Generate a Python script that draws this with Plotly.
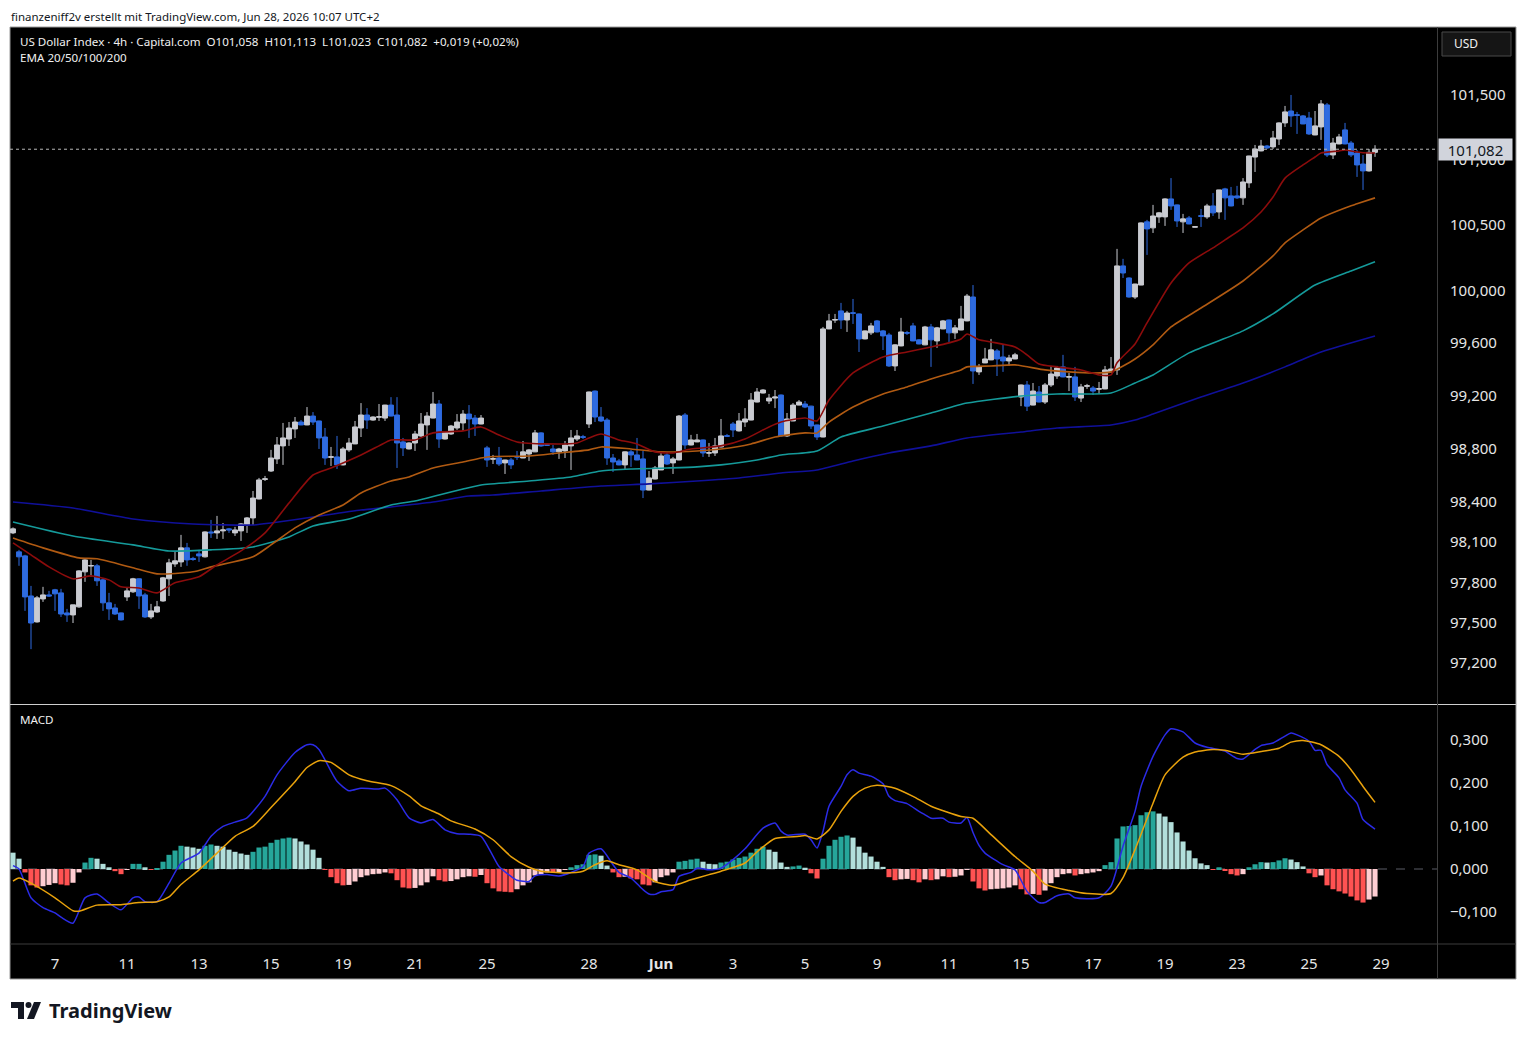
import math
import plotly.graph_objects as go

# screenshot is 1526x1040; the page body adds an 8px margin around the figure
OFF = 8
W, H = 1526 - 2 * OFF, 1040 - OFF

# ---- data: US Dollar Index, 4h candles (weekends removed), index 0..227 ----
opens = [98.169, 98.027, 97.997, 97.698, 97.505, 97.676, 97.706, 97.744, 97.721, 97.572,
         97.557, 97.617, 97.878, 97.921, 97.923, 97.818, 97.647, 97.609, 97.572, 97.691,
         97.729, 97.826, 97.706, 97.542, 97.579, 97.661, 97.826, 97.937, 97.952, 98.057,
         97.978, 98.012, 97.990, 98.176, 98.169, 98.184, 98.199, 98.169, 98.184, 98.228,
         98.281, 98.423, 98.570, 98.633, 98.724, 98.822, 98.874, 98.950, 99.002, 98.980,
         99.047, 99.010, 98.889, 98.736, 98.739, 98.679, 98.792, 98.837, 98.957, 99.055,
         99.017, 99.038, 99.032, 99.130, 99.055, 98.852, 98.799, 98.844, 98.897, 98.980,
         99.032, 99.138, 98.874, 98.912, 98.957, 98.995, 99.062, 99.032, 98.987, 98.807,
         98.722, 98.731, 98.694, 98.716, 98.742, 98.731, 98.761, 98.777, 98.920, 98.831,
         98.799, 98.777, 98.784, 98.822, 98.874, 98.891, 98.987, 99.236, 99.040, 99.017,
         98.731, 98.709, 98.679, 98.777, 98.754, 98.724, 98.490, 98.573, 98.641, 98.754,
         98.694, 98.716, 99.055, 98.829, 98.852, 98.867, 98.767, 98.769, 98.814, 98.899,
         98.987, 98.935, 99.002, 99.017, 99.153, 99.221, 99.161, 99.183, 99.206, 98.897,
         99.010, 99.130, 99.138, 99.122, 98.980, 98.889, 99.707, 99.774, 99.844, 99.775,
         99.830, 99.821, 99.631, 99.677, 99.768, 99.692, 99.661, 99.426, 99.578, 99.679,
         99.730, 99.624, 99.586, 99.722, 99.616, 99.707, 99.775, 99.677, 99.699, 99.768,
         99.950, 99.381, 99.449, 99.472, 99.540, 99.494, 99.464, 99.479, 99.191, 99.282,
         99.130, 99.229, 99.153, 99.282, 99.350, 99.419, 99.341, 99.343, 99.183, 99.272,
         99.259, 99.250, 99.252, 99.381, 99.396, 100.187, 100.095, 99.950, 100.041, 100.524,
         100.478, 100.562, 100.562, 100.700, 100.654, 100.524, 100.554, 100.483, 100.571, 100.562,
         100.646, 100.600, 100.777, 100.723, 100.723, 100.708, 100.823, 101.022, 101.069, 101.107,
         101.100, 101.161, 101.285, 101.377, 101.348, 101.339, 101.323, 101.192, 101.254, 101.424,
         101.038, 101.123, 101.231, 101.130, 101.053, 100.968, 100.915, 101.058]
highs = [98.210, 98.042, 98.005, 97.773, 97.698, 97.766, 97.736, 97.751, 97.751, 97.602,
         97.632, 97.890, 97.975, 97.967, 97.937, 97.833, 97.721, 97.639, 97.575, 97.758,
         97.833, 97.830, 97.721, 97.639, 97.661, 97.840, 97.975, 98.027, 98.154, 98.094,
         97.990, 98.042, 98.180, 98.266, 98.296, 98.243, 98.206, 98.214, 98.243, 98.288,
         98.483, 98.581, 98.596, 98.792, 98.889, 98.995, 99.002, 99.040, 99.017, 99.115,
         99.077, 99.012, 98.957, 98.814, 98.897, 98.814, 98.882, 99.010, 99.145, 99.107,
         99.045, 99.138, 99.132, 99.190, 99.190, 98.882, 98.850, 98.935, 99.070, 99.077,
         99.229, 99.168, 98.930, 98.980, 99.062, 99.092, 99.130, 99.055, 99.055, 98.822,
         98.754, 98.814, 98.718, 98.731, 98.784, 98.859, 98.799, 98.942, 98.925, 98.837,
         98.829, 98.807, 98.859, 98.942, 98.942, 98.905, 99.232, 99.240, 99.115, 99.032,
         98.761, 98.724, 98.780, 98.792, 98.882, 98.784, 98.633, 98.671, 98.769, 98.777,
         98.739, 99.055, 99.070, 98.905, 98.912, 98.870, 98.844, 98.882, 99.025, 98.912,
         99.002, 99.070, 99.107, 99.221, 99.259, 99.250, 99.214, 99.244, 99.210, 99.070,
         99.145, 99.168, 99.161, 99.125, 98.982, 99.722, 99.821, 99.821, 99.905, 99.844,
         99.935, 99.825, 99.695, 99.753, 99.775, 99.699, 99.677, 99.590, 99.791, 99.692,
         99.753, 99.630, 99.730, 99.745, 99.722, 99.775, 99.778, 99.737, 99.882, 99.973,
         100.041, 99.441, 99.563, 99.631, 99.555, 99.586, 99.510, 99.525, 99.285, 99.312,
         99.297, 99.274, 99.297, 99.426, 99.426, 99.510, 99.373, 99.419, 99.290, 99.290,
         99.274, 99.305, 99.426, 99.494, 100.317, 100.241, 100.100, 100.050, 100.520, 100.539,
         100.654, 100.600, 100.705, 100.860, 100.657, 100.585, 100.569, 100.490, 100.623, 100.662,
         100.745, 100.770, 100.785, 100.792, 100.800, 100.860, 101.032, 101.115, 101.154, 101.115,
         101.223, 101.290, 101.416, 101.501, 101.370, 101.346, 101.370, 101.377, 101.462, 101.439,
         101.169, 101.200, 101.285, 101.146, 101.076, 101.038, 101.084, 101.113]
lows = [98.160, 97.923, 97.587, 97.303, 97.500, 97.654, 97.691, 97.587, 97.542, 97.505,
        97.497, 97.610, 97.803, 97.841, 97.773, 97.587, 97.520, 97.557, 97.515, 97.661,
        97.721, 97.602, 97.535, 97.527, 97.572, 97.655, 97.698, 97.915, 97.915, 97.923,
        97.960, 97.952, 97.985, 98.131, 98.124, 98.124, 98.169, 98.146, 98.109, 98.169,
        98.228, 98.420, 98.558, 98.626, 98.686, 98.679, 98.822, 98.882, 98.978, 98.978,
        98.980, 98.799, 98.679, 98.671, 98.648, 98.675, 98.777, 98.835, 98.889, 98.950,
        99.012, 99.010, 99.010, 99.045, 98.656, 98.746, 98.795, 98.784, 98.889, 98.792,
        99.030, 98.807, 98.870, 98.905, 98.942, 98.935, 98.882, 98.897, 98.985, 98.664,
        98.686, 98.671, 98.611, 98.648, 98.716, 98.730, 98.709, 98.775, 98.815, 98.822,
        98.754, 98.724, 98.731, 98.641, 98.859, 98.874, 98.957, 99.002, 99.002, 98.679,
        98.626, 98.676, 98.648, 98.664, 98.714, 98.430, 98.488, 98.570, 98.640, 98.679,
        98.611, 98.714, 98.799, 98.826, 98.850, 98.739, 98.739, 98.746, 98.810, 98.889,
        98.889, 98.930, 98.965, 99.015, 99.150, 99.218, 99.138, 99.107, 98.890, 98.889,
        99.008, 99.128, 99.107, 98.950, 98.867, 98.887, 99.705, 99.753, 99.707, 99.684,
        99.745, 99.532, 99.628, 99.661, 99.680, 99.547, 99.419, 99.388, 99.575, 99.661,
        99.613, 99.590, 99.583, 99.419, 99.563, 99.705, 99.608, 99.631, 99.697, 99.765,
        99.290, 99.358, 99.447, 99.470, 99.350, 99.381, 99.426, 99.477, 99.122, 99.085,
        99.128, 99.150, 99.138, 99.267, 99.328, 99.340, 99.236, 99.161, 99.153, 99.252,
        99.206, 99.214, 99.250, 99.378, 99.358, 100.095, 99.945, 99.935, 100.040, 100.271,
        100.439, 100.516, 100.493, 100.616, 100.485, 100.439, 100.505, 100.480, 100.485, 100.547,
        100.569, 100.547, 100.539, 100.643, 100.700, 100.654, 100.785, 100.907, 101.066, 101.084,
        101.084, 101.115, 101.254, 101.254, 101.200, 101.275, 101.192, 101.190, 101.154, 101.022,
        101.007, 101.120, 101.120, 101.022, 100.869, 100.769, 100.910, 101.023]
closes = [98.199, 97.990, 97.691, 97.497, 97.684, 97.706, 97.698, 97.714, 97.564, 97.557,
          97.632, 97.885, 97.967, 97.925, 97.811, 97.647, 97.602, 97.564, 97.520, 97.736,
          97.826, 97.698, 97.542, 97.587, 97.617, 97.833, 97.945, 97.960, 98.057, 97.967,
          97.970, 97.997, 98.176, 98.169, 98.184, 98.191, 98.191, 98.191, 98.236, 98.281,
          98.430, 98.566, 98.574, 98.731, 98.829, 98.882, 98.957, 99.002, 98.980, 99.047,
          99.002, 98.882, 98.731, 98.740, 98.679, 98.799, 98.844, 98.965, 99.055, 99.017,
          99.040, 99.042, 99.130, 99.047, 98.844, 98.807, 98.844, 98.912, 98.987, 99.047,
          99.138, 98.874, 98.927, 98.972, 99.002, 99.062, 99.025, 98.987, 99.032, 98.716,
          98.726, 98.686, 98.716, 98.679, 98.738, 98.777, 98.792, 98.920, 98.822, 98.827,
          98.777, 98.799, 98.829, 98.882, 98.897, 98.887, 99.229, 99.040, 99.010, 98.731,
          98.701, 98.679, 98.777, 98.754, 98.716, 98.490, 98.581, 98.656, 98.746, 98.686,
          98.724, 99.047, 98.829, 98.867, 98.867, 98.769, 98.771, 98.822, 98.897, 98.895,
          98.942, 99.010, 99.025, 99.168, 99.229, 99.244, 99.183, 99.191, 98.897, 99.025,
          99.130, 99.153, 99.115, 98.972, 98.889, 99.707, 99.768, 99.778, 99.775, 99.828,
          99.826, 99.631, 99.692, 99.730, 99.684, 99.654, 99.426, 99.586, 99.684, 99.675,
          99.616, 99.593, 99.722, 99.624, 99.715, 99.768, 99.677, 99.715, 99.783, 99.957,
          99.388, 99.419, 99.479, 99.548, 99.479, 99.464, 99.487, 99.510, 99.282, 99.122,
          99.236, 99.153, 99.282, 99.365, 99.411, 99.343, 99.345, 99.191, 99.267, 99.276,
          99.236, 99.254, 99.396, 99.403, 100.187, 100.133, 99.950, 100.049, 100.516, 100.470,
          100.569, 100.593, 100.700, 100.646, 100.531, 100.547, 100.508, 100.487, 100.567, 100.646,
          100.593, 100.769, 100.708, 100.646, 100.708, 100.830, 101.030, 101.084, 101.107, 101.092,
          101.169, 101.285, 101.370, 101.339, 101.344, 101.277, 101.200, 101.262, 101.432, 101.038,
          101.130, 101.177, 101.123, 101.038, 100.961, 100.915, 101.058, 101.082]

# EMA lines (candle index -> value)
ema20_idx = [0, 3, 6, 10, 13, 16, 18, 21, 24, 27, 31, 34, 38, 42, 46, 50, 53, 58, 61, 63,
             67, 70, 75, 78, 81, 84, 89, 94, 96, 98, 101, 104, 107, 110, 113, 118, 122, 126, 128, 132,
             134, 136, 140, 145, 149, 153, 156, 158, 159, 161, 163, 167, 169, 171, 174, 178, 181, 183, 184, 187,
             189, 193, 196, 200, 202, 205, 208, 210, 212, 215, 217, 218, 221, 222, 224, 226, 227]
ema20 = [98.094, 98.005, 97.915, 97.826, 97.848, 97.818, 97.766, 97.758, 97.721, 97.796,
         97.841, 97.930, 98.034, 98.169, 98.393, 98.603, 98.656, 98.754, 98.822, 98.867,
         98.867, 98.920, 98.935, 98.965, 98.904, 98.852, 98.837, 98.844, 98.882, 98.912,
         98.867, 98.837, 98.777, 98.769, 98.799, 98.822, 98.874, 98.965, 99.002, 99.032,
         99.010, 99.168, 99.373, 99.494, 99.532, 99.570, 99.601, 99.631, 99.669, 99.624,
         99.608, 99.570, 99.510, 99.441, 99.419, 99.396, 99.358, 99.358, 99.450, 99.593,
         99.753, 100.057, 100.210, 100.325, 100.386, 100.478, 100.600, 100.715, 100.860, 100.961,
         101.022, 101.053, 101.069, 101.076, 101.061, 101.053, 101.053]
ema50_idx = [0, 5, 11, 14, 20, 24, 30, 33, 40, 43, 47, 51, 55, 58, 63, 66, 70, 75, 79, 86,
             91, 96, 98, 103, 108, 114, 118, 123, 127, 132, 134, 136, 140, 145, 149, 153, 158, 159, 163, 167,
             172, 176, 180, 183, 187, 190, 193, 198, 205, 210, 212, 215, 218, 222, 224, 227]
ema50 = [98.131, 98.057, 97.982, 97.975, 97.908, 97.863, 97.878, 97.915, 97.990, 98.079,
         98.206, 98.303, 98.378, 98.468, 98.558, 98.588, 98.656, 98.701, 98.739, 98.746,
         98.769, 98.792, 98.814, 98.799, 98.777, 98.784, 98.799, 98.837, 98.889, 98.920,
         98.920, 99.002, 99.115, 99.214, 99.267, 99.328, 99.396, 99.419, 99.426, 99.434,
         99.396, 99.381, 99.373, 99.381, 99.479, 99.586, 99.722, 99.866, 100.072, 100.264,
         100.363, 100.462, 100.554, 100.631, 100.662, 100.708]
ema100_idx = [0, 10, 20, 26, 33, 40, 46, 50, 56, 63, 67, 71, 75, 78, 86, 93, 98, 103, 109, 114,
              118, 124, 128, 134, 138, 145, 153, 159, 168, 174, 183, 187, 190, 196, 205, 210, 217, 223, 227]
ema100 = [98.251, 98.146, 98.079, 98.034, 98.042, 98.064, 98.139, 98.221, 98.273, 98.378,
          98.408, 98.453, 98.498, 98.528, 98.558, 98.588, 98.633, 98.648, 98.656, 98.664,
          98.679, 98.716, 98.754, 98.784, 98.889, 98.972, 99.070, 99.145, 99.198, 99.214,
          99.221, 99.297, 99.358, 99.525, 99.692, 99.821, 100.041, 100.149, 100.218]
ema200_idx = [0, 10, 20, 30, 40, 43, 50, 58, 63, 70, 76, 80, 88, 98, 106, 114, 121, 128, 134, 140,
              146, 153, 159, 168, 174, 183, 187, 190, 198, 205, 212, 218, 227]
ema200 = [98.400, 98.355, 98.273, 98.236, 98.228, 98.243, 98.288, 98.340, 98.363, 98.400,
          98.445, 98.453, 98.483, 98.520, 98.536, 98.558, 98.581, 98.618, 98.641, 98.709,
          98.769, 98.822, 98.882, 98.927, 98.957, 98.980, 99.017, 99.062, 99.191, 99.297,
          99.419, 99.532, 99.654]

# MACD pane
macd_idx = [0, 1, 3, 5, 7, 8, 10, 12, 14, 16, 18, 20, 21, 22, 24, 26, 28, 31, 33, 35,
            37, 39, 42, 44, 47, 49, 50, 51, 54, 56, 58, 61, 62, 64, 66, 68, 70, 72, 74, 76,
            78, 80, 81, 83, 84, 86, 87, 89, 91, 93, 95, 96, 98, 100, 101, 103, 105, 106, 107, 108,
            110, 111, 113, 114, 116, 118, 120, 122, 125, 127, 128, 129, 132, 133, 134, 135, 136, 138, 139, 140,
            141, 143, 145, 146, 147, 149, 151, 152, 153, 155, 156, 158, 159, 160, 161, 162, 165, 167, 169, 171,
            172, 174, 176, 177, 181, 183, 185, 187, 188, 190, 192, 193, 195, 197, 199, 201, 202, 204, 205, 207,
            208, 210, 212, 213, 214, 216, 217, 218, 219, 221, 222, 224, 225, 227]
macd = [0.008, 0.000, -0.067, -0.090, -0.102, -0.112, -0.126, -0.067, -0.058, -0.079,
        -0.095, -0.067, -0.065, -0.076, -0.076, -0.033, 0.014, 0.037, 0.076, 0.099,
        0.109, 0.119, 0.169, 0.219, 0.271, 0.289, 0.289, 0.278, 0.204, 0.182,
        0.188, 0.186, 0.188, 0.161, 0.119, 0.107, 0.115, 0.091, 0.082, 0.081,
        0.076, 0.030, 0.006, -0.017, -0.026, -0.029, -0.016, -0.013, -0.016, -0.008,
        0.006, 0.037, 0.047, 0.010, -0.008, -0.021, -0.048, -0.058, -0.059, -0.053,
        -0.048, -0.017, -0.008, 0.002, -0.002, 0.002, 0.022, 0.047, 0.095, 0.107,
        0.088, 0.079, 0.081, 0.068, 0.049, 0.088, 0.146, 0.192, 0.219, 0.231,
        0.223, 0.216, 0.198, 0.169, 0.159, 0.152, 0.134, 0.126, 0.118, 0.118,
        0.109, 0.107, 0.120, 0.085, 0.055, 0.037, 0.010, -0.002, -0.052, -0.078,
        -0.078, -0.062, -0.058, -0.067, -0.067, -0.040, 0.053, 0.134, 0.192, 0.262,
        0.312, 0.326, 0.319, 0.293, 0.283, 0.278, 0.274, 0.257, 0.256, 0.278,
        0.287, 0.293, 0.309, 0.316, 0.312, 0.297, 0.276, 0.276, 0.243, 0.212,
        0.184, 0.153, 0.115, 0.093]
signal_idx = [0, 1, 3, 7, 10, 11, 14, 18, 21, 24, 26, 28, 31, 34, 37, 40, 43, 47, 49, 51,
              53, 56, 59, 63, 66, 68, 71, 73, 77, 80, 83, 86, 88, 92, 95, 97, 99, 101, 104, 107,
              110, 113, 116, 118, 122, 124, 127, 131, 132, 134, 136, 138, 140, 142, 144, 147, 150, 153, 158, 160,
              163, 167, 170, 172, 176, 179, 183, 185, 187, 190, 192, 195, 197, 200, 202, 205, 208, 211, 213, 215,
              218, 221, 223, 225, 227]
signal = [-0.028, -0.021, -0.033, -0.067, -0.097, -0.098, -0.084, -0.083, -0.078, -0.076,
          -0.065, -0.036, -0.002, 0.037, 0.076, 0.099, 0.143, 0.203, 0.236, 0.252,
          0.248, 0.219, 0.205, 0.194, 0.170, 0.147, 0.128, 0.112, 0.093, 0.068,
          0.029, 0.004, -0.005, -0.009, -0.005, 0.010, 0.019, 0.010, -0.002, -0.029,
          -0.038, -0.025, -0.013, -0.005, 0.014, 0.040, 0.071, 0.076, 0.078, 0.070,
          0.091, 0.134, 0.169, 0.188, 0.195, 0.188, 0.169, 0.146, 0.122, 0.118,
          0.080, 0.029, -0.005, -0.035, -0.050, -0.057, -0.057, -0.020, 0.045, 0.153,
          0.219, 0.260, 0.272, 0.278, 0.276, 0.267, 0.273, 0.281, 0.295, 0.299,
          0.289, 0.262, 0.231, 0.192, 0.155]
hist = [0.038, 0.024, -0.008, -0.038, -0.043, -0.040, -0.037, -0.033, -0.036, -0.038,
        -0.032, -0.008, 0.015, 0.026, 0.024, 0.012, 0.004, -0.005, -0.012, -0.002,
        0.012, 0.012, 0.004, -0.001, 0.001, 0.017, 0.033, 0.043, 0.054, 0.052,
        0.050, 0.047, 0.054, 0.057, 0.054, 0.052, 0.045, 0.040, 0.036, 0.033,
        0.040, 0.050, 0.052, 0.061, 0.068, 0.071, 0.073, 0.071, 0.064, 0.057,
        0.045, 0.026, -0.002, -0.019, -0.033, -0.038, -0.037, -0.029, -0.019, -0.015,
        -0.012, -0.011, -0.008, -0.010, -0.026, -0.043, -0.045, -0.044, -0.038, -0.031,
        -0.017, -0.026, -0.029, -0.028, -0.024, -0.019, -0.017, -0.018, -0.014, -0.033,
        -0.045, -0.052, -0.053, -0.054, -0.047, -0.038, -0.031, -0.015, -0.012, -0.008,
        -0.009, -0.007, -0.002, 0.004, 0.009, 0.011, 0.033, 0.034, 0.031, 0.008,
        -0.008, -0.019, -0.018, -0.022, -0.024, -0.036, -0.038, -0.031, -0.019, -0.015,
        -0.008, 0.017, 0.019, 0.022, 0.024, 0.017, 0.012, 0.011, 0.015, 0.017,
        0.022, 0.026, 0.029, 0.038, 0.047, 0.052, 0.045, 0.040, 0.015, 0.005,
        0.006, 0.008, 0.003, -0.010, -0.022, 0.024, 0.054, 0.068, 0.075, 0.078,
        0.073, 0.052, 0.038, 0.029, 0.017, 0.005, -0.019, -0.026, -0.024, -0.023,
        -0.026, -0.031, -0.024, -0.026, -0.024, -0.017, -0.019, -0.018, -0.015, -0.002,
        -0.029, -0.045, -0.050, -0.047, -0.046, -0.045, -0.043, -0.038, -0.047, -0.059,
        -0.058, -0.060, -0.050, -0.033, -0.019, -0.012, -0.010, -0.015, -0.012, -0.010,
        -0.008, -0.005, 0.009, 0.016, 0.071, 0.099, 0.100, 0.102, 0.125, 0.132,
        0.134, 0.129, 0.122, 0.109, 0.085, 0.064, 0.043, 0.025, 0.013, 0.009,
        -0.001, 0.004, -0.003, -0.012, -0.015, -0.012, 0.004, 0.011, 0.016, 0.015,
        0.016, 0.020, 0.025, 0.022, 0.016, 0.006, -0.010, -0.019, -0.015, -0.038,
        -0.047, -0.052, -0.057, -0.064, -0.073, -0.078, -0.071, -0.064]

# axis ticks
date_ticks = [7, 19, 31, 43, 55, 67, 79, 96, 108, 120, 132, 144, 156, 168, 180, 192, 204, 216, 228]
date_labels = ['7', '11', '13', '15', '19', '21', '25', '28', '<b>Jun</b>', '3', '5', '9',
               '11', '15', '17', '19', '23', '25', '29']
price_ticks = [97.2, 97.5, 97.8, 98.1, 98.4, 98.8, 99.2, 99.6, 100.0, 100.5, 101.0, 101.5]
price_labels = ['97,200', '97,500', '97,800', '98,100', '98,400', '98,800', '99,200',
                '99,600', '100,000', '100,500', '101,000', '101,500']
macd_ticks = [-0.1, 0.0, 0.1, 0.2, 0.3]
macd_labels = ['\u22120,100', '0,000', '0,100', '0,200', '0,300']


# screen pixel -> paper fraction
def px(x):
    return (x - OFF) / W


def py(y):
    return 1 - (y - OFF) / H


FONT = 'Noto Sans, Roboto, sans-serif'
UP, DOWN = '#c9cbd1', '#2e6be0'

candles = list(range(len(opens)))
fig = go.Figure()

# price pane
fig.add_trace(go.Candlestick(
    x=candles, open=opens, high=highs, low=lows, close=closes,
    increasing=dict(line=dict(color=UP, width=1), fillcolor=UP),
    decreasing=dict(line=dict(color=DOWN, width=1), fillcolor=DOWN),
    whiskerwidth=0, xaxis='x', yaxis='y', hoverinfo='skip'))

for idx, vals, col in [(ema200_idx, ema200, '#10109a'), (ema100_idx, ema100, '#159a9a'),
                       (ema50_idx, ema50, '#b05a12'), (ema20_idx, ema20, '#8c0c0c')]:
    fig.add_trace(go.Scatter(x=idx, y=vals, mode='lines', xaxis='x', yaxis='y',
                             line=dict(color=col, width=1.6, shape='spline', smoothing=0.6),
                             hoverinfo='skip'))

# last price dotted line
fig.add_trace(go.Scatter(x=[-0.5, 237.3], y=[closes[-1], closes[-1]], mode='lines',
                         xaxis='x', yaxis='y', line=dict(color='#b8b8b8', width=1, dash='dot'),
                         hoverinfo='skip'))

# MACD pane
bar_colors = []
prev = None
for v in hist:
    if v >= 0:
        bar_colors.append('#26a69a' if prev is not None and v >= prev else '#b2dfdb')
    else:
        bar_colors.append('#ff5252' if prev is None or v < prev else '#ffcdd2')
    prev = v

fig.add_trace(go.Bar(x=candles, y=hist, marker=dict(color=bar_colors, line=dict(width=0)),
                     xaxis='x2', yaxis='y2', hoverinfo='skip'))
fig.add_trace(go.Scatter(x=macd_idx, y=macd, mode='lines', xaxis='x2', yaxis='y2',
                         line=dict(color='#2b2be6', width=1.5, shape='spline', smoothing=0.6),
                         hoverinfo='skip'))
fig.add_trace(go.Scatter(x=signal_idx, y=signal, mode='lines', xaxis='x2', yaxis='y2',
                         line=dict(color='#e9a20c', width=1.5, shape='spline', smoothing=0.6),
                         hoverinfo='skip'))

x_dom = [px(10), px(1437)]
x_range = [-0.5, 237.33]
tickfont = dict(family=FONT, size=15, color='#e6e6e6')

shapes = [
    # black chart area with grey frame
    dict(type='rect', xref='paper', yref='paper', x0=px(10), x1=px(1516), y0=py(979), y1=py(27),
         fillcolor='black', line=dict(color='#9a9a9a', width=1), layer='below'),
    # zero line of MACD
    dict(type='line', xref='paper', yref='y2', x0=px(10), x1=px(1437), y0=0, y1=0,
         line=dict(color='#5a5d66', width=1, dash='dash'), layer='below'),
    # pane separator, time axis line, price scale line
    dict(type='line', xref='paper', yref='paper', x0=px(10), x1=px(1516), y0=py(704.5), y1=py(704.5),
         line=dict(color='#cfcfcf', width=1.2), layer='above'),
    dict(type='line', xref='paper', yref='paper', x0=px(10), x1=px(1516), y0=py(944), y1=py(944),
         line=dict(color='#3c3c3c', width=1), layer='above'),
    dict(type='line', xref='paper', yref='paper', x0=px(1437.5), x1=px(1437.5), y0=py(979), y1=py(27),
         line=dict(color='#3c3c3c', width=1), layer='above'),
    # USD button
    dict(type='rect', xref='paper', yref='paper', x0=px(1442), x1=px(1511), y0=py(56), y1=py(32),
         fillcolor='#151515', line=dict(color='#4a4a4a', width=1), layer='above'),
]


# TradingView logo mark (bottom left)
def path(points):
    return 'M ' + ' L '.join(f'{px(a):.5f},{py(b):.5f}' for a, b in points) + ' Z'


shapes += [
    dict(type='path', xref='paper', yref='paper', fillcolor='#131722', line=dict(width=0),
         path=path([(11, 1002), (24, 1002), (24, 1019), (18, 1019), (18, 1008), (11, 1008)])),
    dict(type='circle', xref='paper', yref='paper', fillcolor='#131722', line=dict(width=0),
         x0=px(25.5), x1=px(31.5), y0=py(1008), y1=py(1002)),
    dict(type='path', xref='paper', yref='paper', fillcolor='#131722', line=dict(width=0),
         path=path([(34, 1002), (41, 1002), (34, 1019), (27, 1019)])),
]

annotations = [
    dict(text='finanzeniff2v erstellt mit TradingView.com, Jun 28, 2026 10:07 UTC+2',
         x=px(10), y=py(16), xanchor='left', yanchor='middle', borderpad=0,
         font=dict(family=FONT, size=11.5, color='#131722')),
    dict(text='US Dollar Index \u00b7 4h \u00b7 Capital.com  O101,058  H101,113  L101,023  C101,082  +0,019 (+0,02%)',
         x=px(18), y=py(41), xanchor='left', yanchor='middle',
         font=dict(family=FONT, size=11.6, color='#f0f0f0')),
    dict(text='EMA 20/50/100/200', x=px(18), y=py(58), xanchor='left', yanchor='middle',
         font=dict(family=FONT, size=11.6, color='#f0f0f0')),
    dict(text='MACD', x=px(18), y=py(719), xanchor='left', yanchor='middle',
         font=dict(family=FONT, size=11.6, color='#f0f0f0')),
    dict(text='USD', x=px(1452), y=py(44), xanchor='left', yanchor='middle',
         font=dict(family=FONT, size=12, color='#f0f0f0')),
    # last price label on the price scale
    dict(text=f'{closes[-1]:.3f}'.replace('.', ','), xref='paper', yref='y',
         x=px(1475.5), y=math.log10(closes[-1]), xanchor='center', yanchor='middle',
         bgcolor='#d1d4dc', width=71, height=19, borderpad=1,
         font=dict(family=FONT, size=15, color='#131722')),
    dict(text='<b>TradingView</b>', x=px(47), y=py(1010), xanchor='left', yanchor='middle',
         font=dict(family=FONT, size=20, color='#131722')),
]
for a in annotations:
    a.setdefault('xref', 'paper')
    a.setdefault('yref', 'paper')
    a['showarrow'] = False

fig.update_layout(
    width=W, height=H, margin=dict(l=0, r=0, t=0, b=0),
    paper_bgcolor='white', plot_bgcolor='rgba(0,0,0,0)',
    showlegend=False, bargap=0.15, boxgap=0.1, boxgroupgap=0.1,
    shapes=shapes, annotations=annotations,
    xaxis=dict(domain=x_dom, anchor='y', range=x_range, showticklabels=False, showgrid=False,
               zeroline=False, showline=False, rangeslider=dict(visible=False)),
    xaxis2=dict(domain=x_dom, anchor='y2', matches='x', range=x_range, showgrid=False, zeroline=False,
                tickmode='array', tickvals=date_ticks, ticktext=date_labels,
                ticks='outside', ticklen=6, tickcolor='black', tickfont=tickfont),
    yaxis=dict(domain=[py(704), py(27)], anchor='x', type='log', range=[1.98631, 2.00872], side='right',
               showgrid=False, zeroline=False, tickmode='array', tickvals=price_ticks,
               ticktext=price_labels, ticks='outside', ticklen=9, tickcolor='black', tickfont=tickfont),
    yaxis2=dict(domain=[py(944), py(705)], anchor='x2', range=[-0.1744, 0.3814], side='right',
                showgrid=False, zeroline=False, tickmode='array', tickvals=macd_ticks,
                ticktext=macd_labels, ticks='outside', ticklen=9, tickcolor='black', tickfont=tickfont),
)

fig.write_html("out.html")
